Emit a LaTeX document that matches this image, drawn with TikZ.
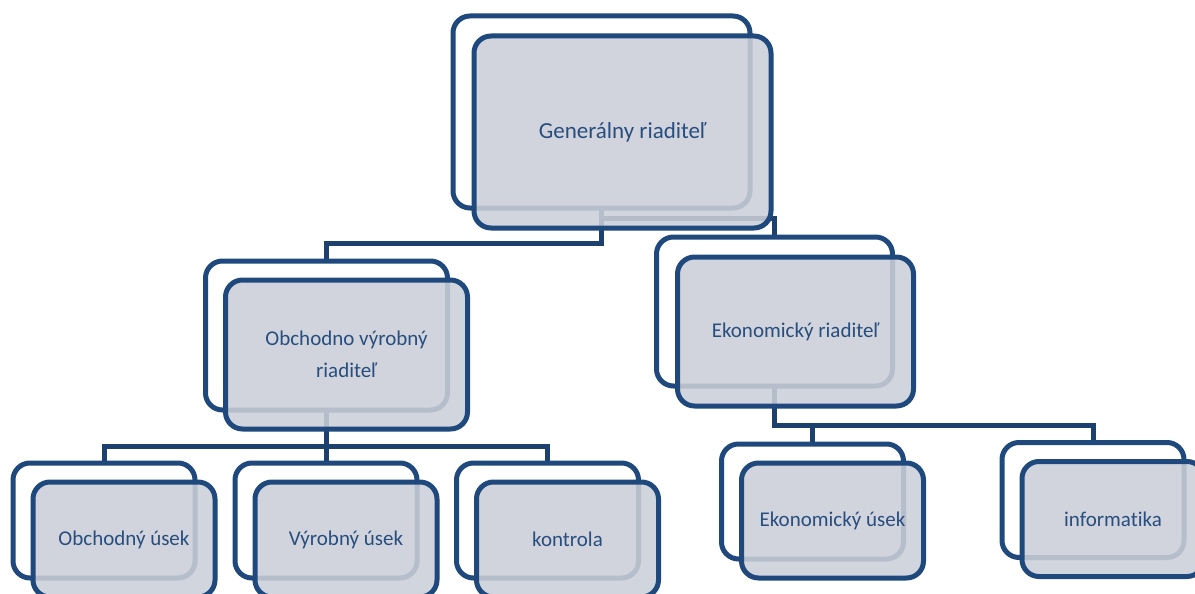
\documentclass[tikz,border=0pt]{standalone}
\usepackage{fontspec}
\setmainfont{Carlito}[Ligatures={NoCommon}]
\usetikzlibrary{backgrounds}
\definecolor{boxline}{HTML}{1F497D}
\definecolor{conn}{HTML}{1D416F}
\definecolor{frontfill}{RGB}{203,207,216}
\definecolor{txt}{HTML}{284E7F}
\tikzset{
  backbox/.style={draw=boxline, line width=5pt, rounded corners=17pt, fill=white,
    inner sep=0pt, outer sep=0pt},
  frontbox/.style={draw=boxline, line width=5pt, rounded corners=17pt, fill=frontfill,
    fill opacity=0.88, draw opacity=1, text opacity=1, text=txt, align=center,
    inner sep=0pt, outer sep=0pt, font=\fontsize{21}{32}\selectfont},
  connector/.style={draw=conn, line width=5pt, line join=miter},
  bigbox/.style={minimum width=297pt, minimum height=192pt},
  midbox/.style={minimum width=242pt, minimum height=149pt},
  midboxb/.style={minimum width=236pt, minimum height=149pt},
  smallbox/.style={minimum width=182pt, minimum height=115pt}
}
\begin{document}
\begin{tikzpicture}[x=1pt,y=-1pt]
\useasboundingbox (0,0) rectangle (1195,594);
\clip (0,0) rectangle (1195,594);
% Generálny riaditeľ
\node[backbox, bigbox] (genB) at (601.5,112) {};
\node[frontbox, bigbox, font=\fontsize{23}{28}\selectfont] (gen) at (622.5,132) {Generálny riaditeľ};
% Obchodno výrobný riaditeľ
\node[backbox, midbox] (obvB) at (326.5,335.5) {};
\node[frontbox, midbox] (obv) at (346.5,354.5) {Obchodno výrobný\\riaditeľ};
% Ekonomický riaditeľ
\node[backbox, midboxb] (ekrB) at (774.5,311.5) {};
\node[frontbox, midboxb] (ekr) at (795.5,331.5) {Ekonomický riaditeľ};
% bottom row
\node[backbox, smallbox] (obuB) at (104,520.5) {};
\node[frontbox, smallbox] (obu) at (124,539.5) {Obchodný úsek};
\node[backbox, smallbox] (vyuB) at (326,520.5) {};
\node[frontbox, smallbox] (vyu) at (346,539.5) {Výrobný úsek};
\node[backbox, smallbox] (konB) at (547.5,520.5) {};
\node[frontbox, smallbox] (kon) at (567.5,539.5) {kontrola};
\node[backbox, smallbox] (ekuB) at (812.5,501.5) {};
\node[frontbox, smallbox] (eku) at (832.5,520.5) {Ekonomický úsek};
\node[backbox, smallbox] (infB) at (1093,500) {};
\node[frontbox, smallbox] (inf) at (1113,519) {informatika};
% connectors
\begin{scope}[on background layer]
\draw[connector] (genB.south) -- ++(0,35) -| (obvB.north);
\draw[connector] (genB.south) -- ++(0,10) -| (ekrB.north);
\draw[connector] (obvB.south) -- ++(0,36) -| (obuB.north);
\draw[connector] (obvB.south) -- ++(0,36) -| (vyuB.north);
\draw[connector] (obvB.south) -- ++(0,36) -| (konB.north);
\draw[connector] (ekrB.south) -- ++(0,39) -| (ekuB.north);
\draw[connector] (ekrB.south) -- ++(0,39) -| (infB.north);
\end{scope}
\end{tikzpicture}
\end{document}
